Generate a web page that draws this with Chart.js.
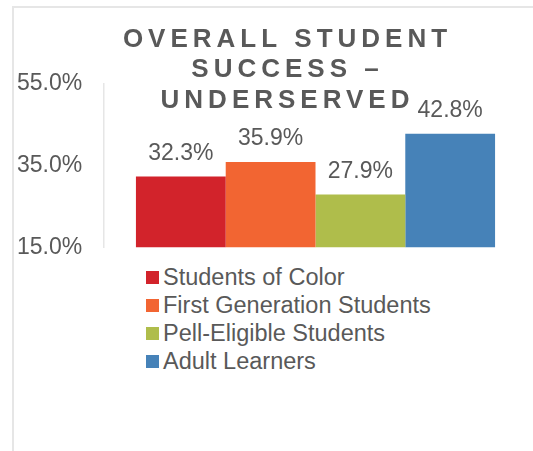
<!DOCTYPE html>
<html>
<head>
<meta charset="utf-8">
<script src="https://cdn.jsdelivr.net/npm/chart.js@4.4.1/dist/chart.umd.min.js"></script>
<style>
	body { margin: 0; background: #fff; font-family: "Liberation Sans", Arial, sans-serif; }
	#wrap { position: relative; width: 533px; height: 451px; overflow: hidden; }
	#frame { position: absolute; left: 12px; top: 6px; width: 600px; height: 500px; border-top: 2px solid #e6e6e6; border-left: 2px solid #e6e6e6; }
	#chartBox { position: absolute; left: 0; top: 0; width: 533px; height: 264px; }
	#legend { position: absolute; left: 146px; top: 264px; margin: 0; padding: 0; list-style: none; color: #595959; font-size: 23.5px; }
	#legend li { display: flex; align-items: center; height: 27.8px; white-space: nowrap; }
	#legend .swatch { width: 13px; height: 13px; margin-right: 4px; flex: none; }
</style>
</head>
<body>
<div id="wrap">
	<div id="frame"></div>
	<div id="chartBox"><canvas id="chart"></canvas></div>
	<ul id="legend"></ul>
</div>
<script>
const FONT = '"Liberation Sans", Arial, sans-serif';
const TEXT = '#595959';

const categories = ['Overall Student Success'];
const seriesNames = ['Students of Color', 'First Generation Students', 'Pell-Eligible Students', 'Adult Learners'];
const seriesValues = [32.3, 35.9, 27.9, 42.8];
const seriesColors = ['#D2232B', '#F26532', '#AFBD4B', '#4682B8'];
const titleLines = ['OVERALL STUDENT', 'SUCCESS –', 'UNDERSERVED'];
const yTicks = [15, 35, 55];

// value text sits above each bar
const valueLabels = {
	id: 'valueLabels',
	afterDatasetsDraw(chart) {
		const ctx = chart.ctx;
		ctx.save();
		ctx.font = `23px ${FONT}`;
		ctx.fillStyle = TEXT;
		ctx.textAlign = 'center';
		ctx.textBaseline = 'alphabetic';
		chart.data.datasets.forEach((ds, i) => {
			chart.getDatasetMeta(i).data.forEach((bar, j) => {
				ctx.fillText(ds.data[j].toFixed(1) + '%', bar.x, bar.y - 17);
			});
		});
		ctx.restore();
	},
};

// spaced-out title drawn over the plot, like the original
const stackedTitle = {
	id: 'stackedTitle',
	afterDraw(chart) {
		const ctx = chart.ctx;
		const ls = 5;
		ctx.save();
		ctx.font = `bold 26px ${FONT}`;
		ctx.fillStyle = TEXT;
		ctx.letterSpacing = ls + 'px';
		ctx.textAlign = 'left';
		ctx.textBaseline = 'alphabetic';
		titleLines.forEach((line, i) => {
			const w = ctx.measureText(line).width - ls;
			ctx.fillText(line, 285 - w / 2, 47 + i * 30.4);
		});
		ctx.restore();
	},
};

const chart = new Chart(document.getElementById('chart'), {
	type: 'bar',
	data: {
		labels: categories,
		datasets: seriesNames.map((name, i) => ({
			label: name,
			data: [seriesValues[i]],
			backgroundColor: seriesColors[i],
			borderWidth: 0,
		})),
	},
	options: {
		responsive: true,
		maintainAspectRatio: false,
		animation: false,
		layout: { padding: { left: 17, right: 6, top: 84, bottom: 10 } },
		datasets: { bar: { categoryPercentage: 0.849, barPercentage: 1 } },
		plugins: {
			legend: { display: false },
			tooltip: { enabled: false },
		},
		scales: {
			x: { display: false },
			y: {
				min: 15,
				max: 55,
				afterBuildTicks: (s) => { s.ticks = yTicks.map((v) => ({ value: v })); },
				afterFit: (s) => { s.width = 87; },
				grid: { display: false },
				border: { color: '#e6e6e6', width: 1.5 },
				ticks: {
					crossAlign: 'far',
					color: TEXT,
					font: { family: FONT, size: 23 },
					callback: (v) => Number(v).toFixed(1) + '%',
				},
			},
		},
	},
	plugins: [valueLabels, stackedTitle],
});

// one legend entry per row, under the bars
const legendEl = document.getElementById('legend');
chart.options.plugins.legend.labels.generateLabels(chart).forEach((item) => {
	const li = document.createElement('li');
	const sw = document.createElement('span');
	sw.className = 'swatch';
	sw.style.background = item.fillStyle;
	const txt = document.createElement('span');
	txt.textContent = item.text;
	li.appendChild(sw);
	li.appendChild(txt);
	legendEl.appendChild(li);
});
</script>
</body>
</html>
